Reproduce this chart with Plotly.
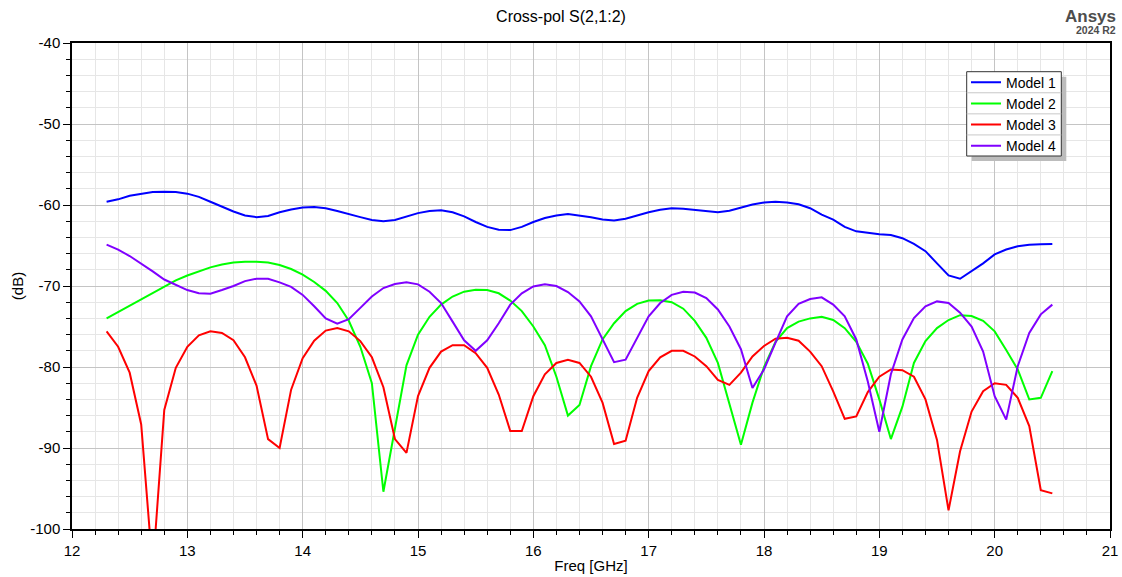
import plotly.graph_objects as go

# ---------------- data ----------------
freq_ghz = [12.3, 12.4, 12.5, 12.6, 12.7, 12.8, 12.9,
            13.0, 13.1, 13.2, 13.3, 13.4, 13.5, 13.6, 13.7, 13.8, 13.9,
            14.0, 14.1, 14.2, 14.3, 14.4, 14.5, 14.6, 14.7, 14.8, 14.9,
            15.0, 15.1, 15.2, 15.3, 15.4, 15.5, 15.6, 15.7, 15.8, 15.9,
            16.0, 16.1, 16.2, 16.3, 16.4, 16.5, 16.6, 16.7, 16.8, 16.9,
            17.0, 17.1, 17.2, 17.3, 17.4, 17.5, 17.6, 17.7, 17.8, 17.9,
            18.0, 18.1, 18.2, 18.3, 18.4, 18.5, 18.6, 18.7, 18.8, 18.9,
            19.0, 19.1, 19.2, 19.3, 19.4, 19.5, 19.6, 19.7, 19.8, 19.9,
            20.0, 20.1, 20.2, 20.3, 20.4, 20.5]

model1_db = [-59.6, -59.3, -58.85, -58.6, -58.4, -58.35, -58.4,
             -58.6, -59.0, -59.6, -60.25, -60.8, -61.3, -61.5, -61.35, -60.9, -60.55,
             -60.3, -60.25, -60.4, -60.75, -61.15, -61.5, -61.85, -62.0, -61.85, -61.4,
             -61.0, -60.75, -60.65, -60.9, -61.4, -62.1, -62.7, -63.05, -63.1, -62.7,
             -62.1, -61.6, -61.3, -61.1, -61.3, -61.5, -61.8, -61.9, -61.7, -61.3,
             -60.9, -60.6, -60.4, -60.45, -60.6, -60.8, -60.9, -60.7, -60.3, -59.95,
             -59.7, -59.6, -59.7, -59.9, -60.4, -61.2, -61.8, -62.7, -63.25, -63.45,
             -63.6, -63.7, -64.1, -64.8, -65.7, -67.2, -68.7, -69.1, -68.2, -67.2,
             -66.1, -65.5, -65.1, -64.9, -64.85, -64.8]

model2_db = [-74.0, -73.2, -72.4, -71.6, -70.8, -70.0, -69.3,
             -68.7, -68.2, -67.7, -67.35, -67.1, -67.0, -67.0, -67.1, -67.4, -67.9,
             -68.6, -69.5, -70.6, -72.1, -74.3, -77.5, -82.0, -95.4, -87.5, -79.8,
             -76.0, -73.8, -72.3, -71.3, -70.7, -70.45, -70.5, -70.9, -71.8, -73.1,
             -75.0, -77.3, -81.2, -86.0, -84.7, -79.9, -76.6, -74.6, -73.1, -72.2,
             -71.8, -71.75, -72.0, -72.8, -74.3, -76.4, -79.5, -84.5, -89.6, -84.4,
             -80.0, -76.9, -75.2, -74.4, -74.0, -73.8, -74.2, -75.2, -76.9, -79.6,
             -84.0, -88.9, -84.9, -79.5, -76.8, -75.2, -74.2, -73.6, -73.7, -74.3,
             -75.6, -77.9, -80.3, -84.0, -83.8, -80.5]

model3_db = [-75.6, -77.5, -80.7, -87.1, -105.0, -85.3, -80.1,
             -77.5, -76.1, -75.6, -75.8, -76.7, -78.8, -82.3, -88.9, -90.0, -82.8,
             -78.9, -76.75, -75.5, -75.2, -75.6, -76.8, -78.8, -82.5, -88.9, -90.6,
             -83.6, -80.1, -78.1, -77.3, -77.3, -78.3, -80.1, -83.4, -87.9, -87.9,
             -83.6, -80.9, -79.5, -79.1, -79.5, -81.2, -84.4, -89.5, -89.1, -83.8,
             -80.5, -78.8, -78.0, -78.0, -78.7, -79.9, -81.6, -82.2, -80.7, -78.7,
             -77.4, -76.5, -76.4, -76.75, -78.1, -79.9, -83.0, -86.4, -86.1, -83.1,
             -81.2, -80.3, -80.4, -81.2, -84.0, -89.0, -97.7, -90.4, -85.5, -83.0,
             -82.0, -82.2, -83.8, -87.3, -95.2, -95.6]

model4_db = [-64.9, -65.5, -66.3, -67.2, -68.2, -69.2, -69.9,
             -70.5, -70.9, -70.95, -70.5, -70.0, -69.4, -69.1, -69.1, -69.55, -70.1,
             -71.1, -72.5, -74.0, -74.65, -74.1, -72.7, -71.3, -70.25, -69.75, -69.55,
             -69.8, -70.7, -72.1, -74.4, -76.7, -78.0, -76.7, -74.6, -72.3, -70.9,
             -70.05, -69.8, -70.0, -70.75, -71.9, -73.75, -76.6, -79.4, -79.1, -76.4,
             -73.75, -72.1, -71.1, -70.7, -70.8, -71.5, -72.9, -75.0, -77.8, -82.6,
             -80.3, -77.0, -73.75, -72.2, -71.6, -71.4, -72.3, -73.75, -76.6, -81.8,
             -88.0, -80.9, -76.6, -73.95, -72.5, -71.9, -72.1, -73.3, -75.0, -78.1,
             -83.6, -86.5, -79.9, -75.8, -73.5, -72.3]

series_names = ["Model 1", "Model 2", "Model 3", "Model 4"]
series_values = [model1_db, model2_db, model3_db, model4_db]
series_colors = ["#0000ff", "#00ff00", "#ff0000", "#8000ff"]

x_tick_vals = [12, 13, 14, 15, 16, 17, 18, 19, 20, 21]
x_tick_text = ["12", "13", "14", "15", "16", "17", "18", "19", "20", "21"]
y_tick_vals = [-100, -90, -80, -70, -60, -50, -40]
y_tick_text = ["-100", "-90", "-80", "-70", "-60", "-50", "-40"]

# ---------------- layout helpers ----------------
FIG_W, FIG_H = 1122, 577
ML, MR, MT, MB = 72, 12, 43, 48
PW = FIG_W - ML - MR
PH = FIG_H - MT - MB
FONT = "Liberation Sans, Arial, sans-serif"


def xp(px):
    return (px - ML) / PW


def yp(py):
    return 1 - (py - MT) / PH


fig = go.Figure()
for name, vals, col in zip(series_names, series_values, series_colors):
    fig.add_trace(go.Scatter(x=freq_ghz, y=vals, mode="lines", name=name,
                             line=dict(color=col, width=2)))

axis_common = dict(
    showline=True, linecolor="black", linewidth=1.5, mirror=True,
    ticks="outside", ticklen=7, tickwidth=1, tickcolor="black",
    showgrid=True, gridcolor="#c4c4c4", gridwidth=1,
    zeroline=False, tickfont=dict(family=FONT, size=15, color="black"),
)

fig.update_xaxes(
    range=[12, 21], tickvals=x_tick_vals, ticktext=x_tick_text,
    minor=dict(dtick=0.2, tick0=12, ticks="outside", ticklen=4, tickcolor="black",
               showgrid=True, gridcolor="#e6e6e6", gridwidth=1),
    title=dict(text="Freq [GHz]", font=dict(family=FONT, size=15, color="black"), standoff=3),
    **axis_common,
)
fig.update_yaxes(
    range=[-100, -40], tickvals=y_tick_vals, ticktext=y_tick_text,
    minor=dict(dtick=2, tick0=-100, ticks="outside", ticklen=4, tickcolor="black",
               showgrid=True, gridcolor="#e6e6e6", gridwidth=1),
    title=dict(text="(dB)", font=dict(family=FONT, size=15, color="black"), standoff=3),
    **axis_common,
)

# legend frame, drop shadow and row separators (legend itself is native)
leg_l, leg_r, leg_t, leg_b = 966.7, 1061.3, 71.7, 156.0
row_h = (leg_b - leg_t) / len(series_names)
shapes = [
    dict(type="rect", xref="paper", yref="paper", layer="above",
         x0=xp(leg_l + 5), x1=xp(leg_r + 5), y0=yp(leg_b + 5), y1=yp(leg_t + 5),
         fillcolor="#bcbcbc", line=dict(width=0)),
    dict(type="rect", xref="paper", yref="paper", layer="above",
         x0=xp(leg_l), x1=xp(leg_r), y0=yp(leg_b), y1=yp(leg_t),
         fillcolor="white", line=dict(color="#333333", width=1)),
]
for k in range(1, len(series_names)):
    yy = leg_t + k * row_h
    shapes.append(dict(type="line", xref="paper", yref="paper", layer="above",
                       x0=xp(leg_l), x1=xp(leg_r), y0=yp(yy), y1=yp(yy),
                       line=dict(color="#c8c8c8", width=1)))

annotations = [
    dict(text="Ansys", xref="paper", yref="paper", x=xp(1118), y=yp(16.5),
         xanchor="right", yanchor="middle", showarrow=False,
         font=dict(family=FONT, size=17, color="#4d4d4d", weight="bold")),
    dict(text="2024 R2", xref="paper", yref="paper", x=xp(1118), y=yp(29.5),
         xanchor="right", yanchor="middle", showarrow=False,
         font=dict(family=FONT, size=10.5, color="#4d4d4d", weight="bold")),
]

fig.update_layout(
    width=FIG_W, height=FIG_H,
    margin=dict(l=ML, r=MR, t=MT, b=MB, autoexpand=False),
    paper_bgcolor="white", plot_bgcolor="white",
    font=dict(family=FONT, size=15, color="black"),
    title=dict(text="Cross-pol S(2,1:2)", x=0.5, xref="container", xanchor="center",
               y=1 - 16 / FIG_H, yref="container", yanchor="middle",
               font=dict(family=FONT, size=16, color="black")),
    showlegend=True,
    legend=dict(x=xp(966), y=yp(66.6), xanchor="left", yanchor="top",
                bgcolor="rgba(0,0,0,0)", borderwidth=0,
                font=dict(family=FONT, size=14, color="black")),
    shapes=shapes,
    annotations=annotations,
)

fig.write_html("out.html")
